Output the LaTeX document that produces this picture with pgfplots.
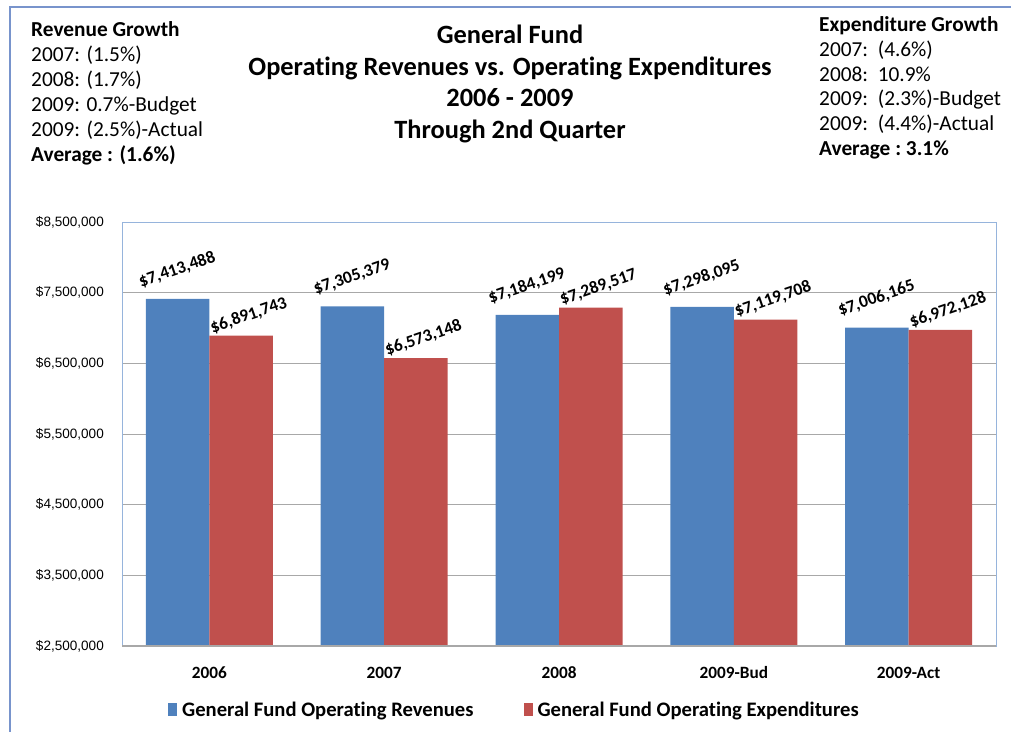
\documentclass[border=0pt]{standalone}
\usepackage{pgfplots}
\usepackage{pgfplotstable}
\pgfplotsset{compat=1.18}
\usepackage{fontspec}
\setmainfont{Carlito}[Ligatures=NoCommon]
\newfontfamily\tickfont{Liberation Sans}

\definecolor{revblue}{HTML}{4F81BD}
\definecolor{expred}{HTML}{C0504D}
\definecolor{outerblue}{RGB}{120,148,204}
\definecolor{plotblue}{RGB}{150,180,220}
\definecolor{gridgray}{RGB}{168,168,168}

\newcommand{\blk}{\fontsize{21.4}{25}\selectfont}

\pgfplotstableread{
x rev revlab exp explab
0 7413488 7,413,488 6891743 6,891,743
1 7305379 7,305,379 6573148 6,573,148
2 7184199 7,184,199 7289517 7,289,517
3 7298095 7,298,095 7119708 7,119,708
4 7006165 7,006,165 6972128 6,972,128
}\fundtable

\begin{document}
\begin{tikzpicture}[x=1bp,y=-1bp]
\path[use as bounding box] (0,0) rectangle (1011,732);
\draw[outerblue, line width=1.3bp] (10,732) -- (10,7) -- (1011,7);

% title
\node[align=center, font=\bfseries\fontsize{26.5}{31.5}\selectfont, inner sep=0pt]
  at (510,84) {General Fund\\Operating Revenues vs. Operating Expenditures\\2006 - 2009\\Through 2nd Quarter};

% revenue growth block
\node[anchor=base west, inner sep=0pt, font=\blk\bfseries] at (31,37) {Revenue Growth};
\node[anchor=base west, inner sep=0pt, font=\blk] at (31,62) {2007: (1.5\%)};
\node[anchor=base west, inner sep=0pt, font=\blk] at (31,87) {2008: (1.7\%)};
\node[anchor=base west, inner sep=0pt, font=\blk] at (31,112) {2009: 0.7\%-Budget};
\node[anchor=base west, inner sep=0pt, font=\blk] at (31,137) {2009: (2.5\%)-Actual};
\node[anchor=base west, inner sep=0pt, font=\blk\bfseries] at (31,162) {Average : (1.6\%)};

% expenditure growth block
\node[anchor=base west, inner sep=0pt, font=\blk\bfseries] at (819,32) {Expenditure Growth};
\node[anchor=base west, inner sep=0pt, font=\blk] at (819,57) {2007:\ \ (4.6\%)};
\node[anchor=base west, inner sep=0pt, font=\blk] at (819,82) {2008:\ \ 10.9\%};
\node[anchor=base west, inner sep=0pt, font=\blk] at (819,106) {2009:\ \ (2.3\%)-Budget};
\node[anchor=base west, inner sep=0pt, font=\blk] at (819,131) {2009:\ \ (4.4\%)-Actual};
\node[anchor=base west, inner sep=0pt, font=\blk\bfseries] at (819,156) {Average :\ 3.1\%};

\begin{axis}[
    at={(122bp,-646bp)},
    anchor=south west,
    scale only axis,
    width=874bp,
    height=424bp,
    ybar=0pt,
    bar width=63.5bp,
    xmin=-0.5, xmax=4.5,
    ymin=2500000, ymax=8500000,
    scaled y ticks=false,
    xtick={0,1,2,3,4},
    xticklabels={2006,2007,2008,2009-Bud,2009-Act},
    ytick={2500000,3500000,4500000,5500000,6500000,7500000,8500000},
    yticklabels={{\$2,500,000},{\$3,500,000},{\$4,500,000},{\$5,500,000},{\$6,500,000},{\$7,500,000},{\$8,500,000}},
    major tick length=0pt,
    ymajorgrids=true,
    grid style={color=gridgray, line width=0.9bp},
    axis line style={draw=plotblue, line width=0.9bp},
    xticklabel style={font=\bfseries\fontsize{17.3}{17.3}\selectfont, anchor=center, inner sep=0pt, yshift=-27bp},
    yticklabel style={font=\tickfont\fontsize{13.6}{13.6}\selectfont, anchor=east, inner sep=0pt, xshift=-18bp},
    legend style={at={(0.0526,-0.15)}, anchor=west, draw=none, fill=none,
        inner sep=0pt, font=\bfseries\fontsize{20.7}{20.7}\selectfont,
        /tikz/every even column/.append style={column sep=45bp},
        nodes={inner xsep=5bp, inner ysep=0pt}},
    legend columns=2,
    legend image code/.code={\fill[#1] (0bp,-6.5bp) rectangle (9bp,6.5bp);},
    point meta=explicit symbolic,
    nodes near coords={\$\pgfplotspointmeta},
    every node near coord/.append style={font=\bfseries\fontsize{17.5}{17.5}\selectfont, color=black},
]
\addplot[fill=revblue, draw=none,
    every node near coord/.append style={shift={(3bp,19bp)}, rotate=19}]
    table[x=x, y=rev, meta=revlab] {\fundtable};
\addplot[fill=expred, draw=none,
    every node near coord/.append style={shift={(11bp,10bp)}, rotate=19}]
    table[x=x, y=exp, meta=explab] {\fundtable};
\draw[gridgray, line width=1.2bp] (rel axis cs:0,0) -- (rel axis cs:1,0);
\legend{General Fund Operating Revenues,General Fund Operating Expenditures}
\end{axis}
\end{tikzpicture}
\end{document}
